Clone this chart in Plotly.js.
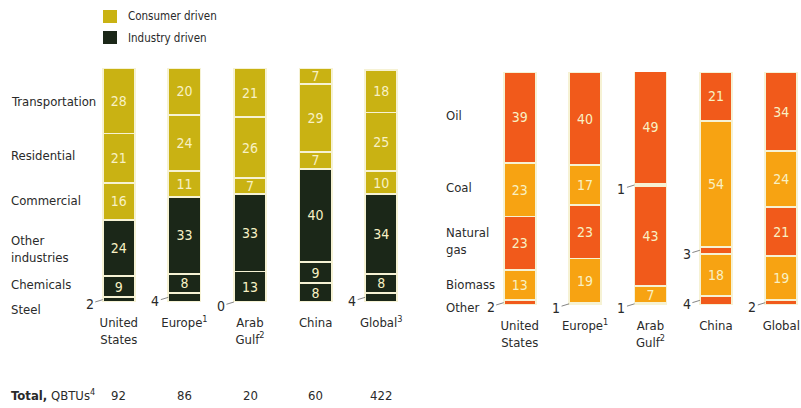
<!DOCTYPE html>
<html>
<head>
<meta charset="utf-8">
<script src="https://cdn.plot.ly/plotly-3.0.1.min.js"></script>
<style>
  html, body { margin: 0; padding: 0; background: #ffffff; }
  #chart { width: 801px; height: 408px; }
</style>
</head>
<body>
<div id="chart"></div>
<script>
// Regions shown in both panels
const regions = ['United States', 'Europe', 'Arab Gulf', 'China', 'Global'];
const leftTickLabels = ['United<br>States', 'Europe<sup>1</sup>', 'Arab<br>Gulf<sup>2</sup>', 'China', 'Global<sup>3</sup>'];
const rightTickLabels = ['United<br>States', 'Europe<sup>1</sup>', 'Arab<br>Gulf<sup>2</sup>', 'China', 'Global'];

// Energy demand by sector, % (bottom to top)
const steel          = [2, 4, 0, 8, 4];
const chemicals      = [9, 8, 13, 9, 8];
const otherIndustry  = [24, 33, 33, 40, 34];
const commercial     = [16, 11, 7, 7, 10];
const residential    = [21, 24, 26, 29, 25];
const transportation = [28, 20, 21, 7, 18];

// Energy supply by fuel, % (bottom to top)
const otherFuel  = [2, 1, 1, 4, 2];
const biomass    = [13, 19, 7, 18, 19];
const naturalGas = [23, 23, 43, 3, 21];
const coal       = [23, 17, 1, 54, 24];
const oil        = [39, 40, 49, 21, 34];

// Total demand, QBTUs
const totals = [92, 86, 20, 60, 422];

const W = 801, H = 408;
const FONT = '"DejaVu Sans Condensed", "Liberation Sans", sans-serif';
const LABEL_SIZE = 13;
const YELLOW = '#c9b213';
const DARK = '#1b2718';
const RED = '#f15a1b';
const AMBER = '#f7a312';
const SEP = '#f6f2d4';
const INK = '#2a2a2a';
const BAR_GAP = 0.51;
const HALF = (1 - BAR_GAP) / 2;
const MIN_INSIDE = 5;   // shares below this are labelled beside the bar

const pxX = p => p / W;
const pxY = p => 1 - p / H;

const leftLayers = [
  {name: 'Steel', v: steel, c: DARK},
  {name: 'Chemicals', v: chemicals, c: DARK},
  {name: 'Other industries', v: otherIndustry, c: DARK},
  {name: 'Commercial', v: commercial, c: YELLOW},
  {name: 'Residential', v: residential, c: YELLOW},
  {name: 'Transportation', v: transportation, c: YELLOW}
];
const rightLayers = [
  {name: 'Other', v: otherFuel, c: RED},
  {name: 'Biomass', v: biomass, c: AMBER},
  {name: 'Natural gas', v: naturalGas, c: RED},
  {name: 'Coal', v: coal, c: AMBER},
  {name: 'Oil', v: oil, c: RED}
];

const traces = [];
const annotations = [];

// Build one stacked panel; small shares get an outside label with a leader line
function buildPanel(layers, xa, ya) {
  const base = regions.map(() => 0);
  layers.forEach(layer => {
    const big = layer.v.some(v => v >= MIN_INSIDE);
    const trace = {
      type: 'bar',
      name: layer.name,
      x: regions,
      y: layer.v,
      xaxis: xa, yaxis: ya,
      marker: {color: layer.c, line: {color: SEP, width: 1.8}},
      showlegend: false,
      hovertemplate: layer.name + ': %{y}%<extra>%{x}</extra>'
    };
    if (big) {
      Object.assign(trace, {
        text: layer.v.map(v => v >= MIN_INSIDE ? String(v) : null),
        textposition: layer.v.map(v => v >= MIN_INSIDE ? 'inside' : 'none'),
        insidetextanchor: 'middle',
        constraintext: 'none',
        textangle: 0,
        textfont: {family: FONT, size: 14, color: '#f8f1c4'}
      });
    } else {
      trace.textposition = 'none';
    }
    traces.push(trace);
    layer.v.forEach((v, i) => {
      if (v < MIN_INSIDE) {
        annotations.push({
          xref: xa, yref: ya,
          x: i - HALF, y: base[i] + v / 2,
          text: String(v),
          showarrow: true, arrowhead: 0, arrowwidth: 0.8, arrowcolor: '#666',
          ax: -13, ay: 4,
          font: {family: FONT, size: 14, color: INK}
        });
      }
      base[i] += v;
    });
  });
}
buildPanel(leftLayers, 'x', 'y');
buildPanel(rightLayers, 'x2', 'y2');

// Row labels for each panel
function rowLabel(text, x, y, size) {
  annotations.push({
    xref: 'paper', yref: 'paper', x: pxX(x), y: pxY(y),
    xanchor: 'left', yanchor: 'middle', showarrow: false, align: 'left',
    text: text, font: {family: FONT, size: size || LABEL_SIZE, color: INK}
  });
}
rowLabel('Transportation', 9, 101);
rowLabel('Residential', 9, 155);
rowLabel('Commercial', 9, 200);
rowLabel('Other<br>industries', 9, 249);
rowLabel('Chemicals', 9, 284);
rowLabel('Steel', 9, 309);
rowLabel('Oil', 444, 115);
rowLabel('Coal', 444, 188);
rowLabel('Natural<br>gas', 444, 241);
rowLabel('Biomass', 444, 284);
rowLabel('Other', 444, 307);

// Totals row
rowLabel('<b>Total,</b> QBTUs<sup>4</sup>', 9, 395);
totals.forEach((t, i) => {
  annotations.push({
    xref: 'x', yref: 'paper', x: i, y: pxY(395),
    xanchor: 'center', yanchor: 'middle', showarrow: false,
    text: String(t), font: {family: FONT, size: LABEL_SIZE, color: INK}
  });
});

// Legend
const shapes = [
  {type: 'rect', xref: 'paper', yref: 'paper', x0: pxX(103), x1: pxX(117), y0: pxY(23), y1: pxY(10),
   fillcolor: YELLOW, line: {width: 0}},
  {type: 'rect', xref: 'paper', yref: 'paper', x0: pxX(103), x1: pxX(117), y0: pxY(44), y1: pxY(31),
   fillcolor: DARK, line: {width: 0}}
];
rowLabel('Consumer driven', 126, 16, 11.5);
rowLabel('Industry driven', 126, 38, 11.5);

const spacingR = 65.4;
const layout = {
  width: W, height: H,
  margin: {l: 0, r: 0, t: 0, b: 0},
  paper_bgcolor: '#ffffff', plot_bgcolor: '#ffffff',
  barmode: 'stack', bargap: BAR_GAP,
  showlegend: false,
  xaxis: {
    domain: [pxX(86), pxX(414)], range: [-0.5, 4.5], type: 'category',
    tickmode: 'array', tickvals: regions, ticktext: leftTickLabels,
    showgrid: false, zeroline: false, showline: false, ticks: '',
    ticklabelstandoff: 11,
    tickfont: {family: FONT, size: LABEL_SIZE, color: INK}, anchor: 'y'
  },
  yaxis: {
    domain: [pxY(302), pxY(68)], range: [0, 100],
    showgrid: false, zeroline: false, showline: false, showticklabels: false, ticks: ''
  },
  xaxis2: {
    domain: [pxX(487), pxX(800)], range: [-0.5, -0.5 + (800 - 487) / spacingR], type: 'category',
    tickmode: 'array', tickvals: regions, ticktext: rightTickLabels,
    showgrid: false, zeroline: false, showline: false, ticks: '',
    ticklabelstandoff: 11,
    tickfont: {family: FONT, size: LABEL_SIZE, color: INK}, anchor: 'y2'
  },
  yaxis2: {
    domain: [pxY(305), pxY(72)], range: [0, 100],
    showgrid: false, zeroline: false, showline: false, showticklabels: false, ticks: ''
  },
  annotations: annotations,
  shapes: shapes
};

Plotly.newPlot('chart', traces, layout, {displayModeBar: false, staticPlot: true});
</script>
</body>
</html>
